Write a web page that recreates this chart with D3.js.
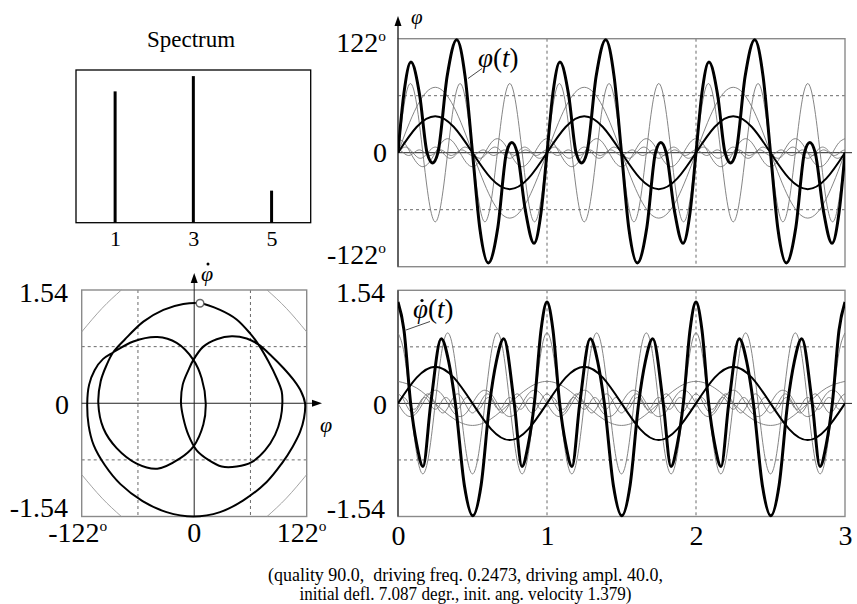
<!DOCTYPE html>
<html>
<head>
<meta charset="utf-8">
<script src="https://cdn.jsdelivr.net/npm/d3@7"></script>
<style>
  body { margin: 0; background: #fff; }
  svg { display: block; }
  text { font-family: "Liberation Serif", "Times New Roman", serif; fill: #000; }
</style>
</head>
<body>
<svg id="chart" width="857" height="604"></svg>
<script>
// spectrum (relative amplitudes of harmonics)
const spectrumOrders = [1, 3, 5];
const spectrumHeights = [0.86, 0.96, 0.21];

const timeTicks = [0, 1, 2, 3];
const phiMax = 122;
const velMax = 1.54;

// one period (t from 0 to 1) of the thick curves, [t, value]
const phiThick = [
  [0, 0], [0.04, 64], [0.087, 97], [0.145, 62], [0.195, 0], [0.232, -11], [0.268, 0],
  [0.33, 82], [0.394, 121], [0.45, 82], [0.5, 0], [0.55, -82], [0.606, -118], [0.67, -80],
  [0.728, 0], [0.764, 11], [0.8, 0], [0.855, -62], [0.913, -97], [0.96, -64], [1, 0]
];
const velThick = [
  [0, 1.38], [0.04, 1.0], [0.085, 0], [0.125, -0.55], [0.168, -0.86], [0.22, 0], [0.29, 0.88],
  [0.34, 0.57], [0.385, 0], [0.445, -1.11], [0.502, -1.53], [0.558, -1.11], [0.615, 0],
  [0.66, 0.57], [0.71, 0.88], [0.78, 0], [0.832, -0.86], [0.875, -0.55], [0.915, 0],
  [0.96, 1.0], [1, 1.38]
];

// driving torque, one cycle in 8 steps
const drivePhi = [0, 27.5, 39, 27.5, 0, -27.5, -39, -27.5];
const driveVel = [0, 0.35, 0.5, 0.35, 0, -0.35, -0.5, -0.35];

// thin harmonic components, one cycle each in 8 steps
const phiHarmonics = [
  { period: 1, values: [0, 49, 70, 49, 0, -49, -70, -49] },
  { period: 1 / 3, values: [0, 52, 74, 52, 0, -52, -74, -52] },
  { period: 1 / 3, values: [15, 10.6, 0, -10.6, -15, -10.6, 0, 10.6] },
  { period: 1 / 5, values: [0, 4.2, 6, 4.2, 0, -4.2, -6, -4.2] },
  { period: 1 / 7, values: [3, 2.1, 0, -2.1, -3, -2.1, 0, 2.1] }
];
const velHarmonics = [
  { period: 1, values: [0.3, 0.21, 0, -0.21, -0.3, -0.21, 0, 0.21] },
  { period: 1 / 3, values: [0.96, 0.68, 0, -0.68, -0.96, -0.68, 0, 0.68] },
  { period: 1 / 3, values: [0, -0.13, -0.18, -0.13, 0, 0.13, 0.18, 0.13] },
  { period: 1 / 5, values: [0.13, 0.09, 0, -0.09, -0.13, -0.09, 0, 0.09] },
  { period: 1 / 7, values: [0, 0.06, 0.08, 0.06, 0, -0.06, -0.08, -0.06] }
];

// phase trajectory [phi (deg), phi dot]
const portraitLoop = [
  [6.3, 1.36], [28, 1.27], [46, 1.14], [60.6, 0.95], [69.6, 0.8],
  [80.4, 0.57], [89.5, 0.34], [94.9, 0.16], [95.6, 0], [93.8, -0.2], [87.7, -0.43],
  [76.8, -0.64], [62.3, -0.8], [46.1, -0.86], [29.8, -0.86], [15.4, -0.77], [2.7, -0.64],
  [-6.3, -0.43], [-11.8, -0.2], [-14.3, 0],
  [-12.5, 0.25], [-6.3, 0.45], [-0.9, 0.59], [9.9, 0.77], [24.4, 0.87], [40.7, 0.91],
  [56.9, 0.88], [69.6, 0.8],
  [84.1, 0.64], [96.7, 0.48], [107.6, 0.32], [115.9, 0.16], [120.2, 0], [119.1, -0.2],
  [114.8, -0.39], [106.8, -0.59], [94.9, -0.82], [78.6, -1.07], [53.3, -1.32], [28, -1.48],
  [-0.9, -1.54],
  [-30, -1.48], [-56, -1.33], [-80, -1.1], [-97, -0.84], [-109, -0.57], [-114.5, -0.3],
  [-116, 0], [-114, 0.25], [-108, 0.45], [-99, 0.6], [-88, 0.69],
  [-66, 0.84], [-40, 0.9], [-19, 0.82], [-0.9, 0.59], [8.1, 0.34], [12.5, 0],
  [9.9, -0.29], [-0.9, -0.59], [-15.4, -0.75], [-40, -0.89], [-62.4, -0.82],
  [-84.1, -0.61], [-98.5, -0.34], [-104, 0], [-101.4, 0.3], [-95, 0.52], [-88, 0.69],
  [-75, 0.87], [-55.1, 1.11], [-33.4, 1.27], [-11.8, 1.35]
];
const startPoint = [6.3, 1.36];
const separatrix = [
  [[-122, 0.97], [-100, 1.29], [-79, 1.54]],
  [[79, 1.54], [100, 1.29], [122, 0.97]],
  [[-122, -0.97], [-100, -1.29], [-79, -1.54]],
  [[79, -1.54], [100, -1.29], [122, -0.97]]
];

const captionLines = [
  "(quality 90.0,  driving freq. 0.2473, driving ampl. 40.0,",
  "initial defl. 7.087 degr., init. ang. velocity 1.379)"
];
const captionWidths = [395, 332];

// repeat one period of [t, v] pairs
function tilePairs(pairs, cycles) {
  const out = [];
  for (let k = 0; k < cycles; k++) {
    pairs.forEach(([t, v], i) => {
      if (k > 0 && i === 0) return;
      out.push([t + k, v]);
    });
  }
  return out;
}

// repeat a cycle of evenly spaced samples over the span
function tileCycle(values, period, span) {
  const n = values.length;
  const count = Math.round(span / period) * n;
  const out = [];
  for (let i = 0; i <= count; i++) out.push([(i * period) / n, values[i % n]]);
  return out;
}

const svg = d3.select("#chart");
const GRID = "#444";
const FRAME = "#8a8a8a";
const THIN = "#777";

const defs = svg.append("defs");

function addLabel(g, x, y, str, size, anchor, deg) {
  const t = g.append("text")
    .attr("x", x).attr("y", y)
    .attr("font-size", size)
    .attr("text-anchor", anchor)
    .text(str);
  if (deg) t.append("tspan").attr("font-size", size * 0.55).attr("dy", -size * 0.38).text("o");
  return t;
}

function arrowUp(g, x, y) {
  g.append("path").attr("d", `M${x},${y} l-3.5,10 l7,0 z`).attr("fill", "#000");
}
function arrowRight(g, x, y) {
  g.append("path").attr("d", `M${x},${y} l-10,-3.5 l0,7 z`).attr("fill", "#000");
}

function styleTicks(a, size) {
  a.select(".domain").remove();
  a.selectAll("text").attr("font-size", size)
    .attr("font-family", "Liberation Serif, serif").attr("fill", "#000");
}

// ---------- spectrum ----------
const xS = d3.scaleLinear().domain([0, 6]).range([76, 310.7]);
const yS = d3.scaleLinear().domain([0, 1]).range([222.7, 70]);
const spec = svg.append("g");
spec.append("text").attr("x", 191).attr("y", 47).attr("font-size", 23)
  .attr("text-anchor", "middle").text("Spectrum");
spec.append("rect")
  .attr("x", xS(0)).attr("y", yS(1))
  .attr("width", xS(6) - xS(0)).attr("height", yS(0) - yS(1))
  .attr("fill", "none").attr("stroke", "#000").attr("stroke-width", 1.3);
spec.selectAll(".bar").data(spectrumOrders).enter().append("line")
  .attr("x1", d => xS(d)).attr("x2", d => xS(d))
  .attr("y1", yS(0)).attr("y2", (d, i) => yS(spectrumHeights[i]))
  .attr("stroke", "#000").attr("stroke-width", 3);
spec.append("g")
  .attr("transform", `translate(0,${yS(0)})`)
  .call(d3.axisBottom(xS).tickValues(spectrumOrders).tickSize(0).tickPadding(8).tickFormat(d3.format("d")))
  .call(a => styleTicks(a, 22));

// ---------- time panels ----------
const xT = d3.scaleLinear().domain([0, 3]).range([398, 845]);

function timePanel(id, y, vMax, thick, drive, harmonics, thickWidth) {
  const g = svg.append("g");
  const [x0, x1] = xT.range();
  const [yb, yt] = y.range();
  defs.append("clipPath").attr("id", id).append("rect")
    .attr("x", x0).attr("y", yt - 2).attr("width", x1 - x0).attr("height", yb - yt + 4);

  // grid
  [1, 2].forEach(t => g.append("line")
    .attr("x1", xT(t)).attr("x2", xT(t)).attr("y1", yt).attr("y2", yb)
    .attr("stroke", GRID).attr("stroke-width", 0.8).attr("stroke-dasharray", "3,3"));
  [vMax / 2, -vMax / 2].forEach(v => g.append("line")
    .attr("x1", x0).attr("x2", x1).attr("y1", y(v)).attr("y2", y(v))
    .attr("stroke", GRID).attr("stroke-width", 0.8).attr("stroke-dasharray", "3,3"));

  g.append("rect").attr("x", x0).attr("y", yt).attr("width", x1 - x0).attr("height", yb - yt)
    .attr("fill", "none").attr("stroke", FRAME).attr("stroke-width", 1.4);
  g.append("line").attr("x1", x0).attr("x2", 852).attr("y1", y(0)).attr("y2", y(0))
    .attr("stroke", "#222").attr("stroke-width", 1);
  g.append("line").attr("x1", x0).attr("x2", x0).attr("y1", yt).attr("y2", yb)
    .attr("stroke", "#333").attr("stroke-width", 1.2);

  const curves = g.append("g").attr("clip-path", `url(#${id})`);
  const smooth = d3.line().x(d => xT(d[0])).y(d => y(d[1])).curve(d3.curveNatural);
  const mono = d3.line().x(d => xT(d[0])).y(d => y(d[1])).curve(d3.curveMonotoneX);

  harmonics.forEach(h => curves.append("path")
    .attr("d", smooth(tileCycle(h.values, h.period, 3)))
    .attr("fill", "none").attr("stroke", THIN).attr("stroke-width", 0.9));
  curves.append("path").attr("d", smooth(tileCycle(drive, 1, 3)))
    .attr("fill", "none").attr("stroke", "#000").attr("stroke-width", 2);
  curves.append("path").attr("d", mono(tilePairs(thick, 3)))
    .attr("fill", "none").attr("stroke", "#000").attr("stroke-width", thickWidth);
  return g;
}

const yPhi = d3.scaleLinear().domain([-phiMax, phiMax]).range([266.7, 38.7]);
const topPanel = timePanel("clipTop", yPhi, phiMax, phiThick, drivePhi, phiHarmonics, 3);
addLabel(topPanel, 386, 51.7, "122", 28, "end", true);
addLabel(topPanel, 387, 162, "0", 28, "end", false);
addLabel(topPanel, 386, 263.5, "-122", 28, "end", true);
topPanel.append("line").attr("x1", 398).attr("x2", 398).attr("y1", 38.7).attr("y2", 22)
  .attr("stroke", "#000").attr("stroke-width", 1.2);
arrowUp(topPanel, 398, 16);
topPanel.append("text").attr("x", 411).attr("y", 24).attr("font-size", 21)
  .attr("font-style", "italic").text("φ");
topPanel.append("line").attr("x1", 468).attr("y1", 78.5).attr("x2", 482).attr("y2", 68.5)
  .attr("stroke", "#333").attr("stroke-width", 0.9);
const lblTop = topPanel.append("text").attr("x", 478).attr("y", 67).attr("font-size", 27);
lblTop.append("tspan").attr("font-style", "italic").text("φ");
lblTop.append("tspan").text("(");
lblTop.append("tspan").attr("font-style", "italic").text("t");
lblTop.append("tspan").text(")");

const yVel = d3.scaleLinear().domain([-velMax, velMax]).range([516.5, 290.3]);
const botPanel = timePanel("clipBot", yVel, velMax, velThick, driveVel, velHarmonics, 3);
addLabel(botPanel, 385, 301.7, "1.54", 28, "end", false);
addLabel(botPanel, 387, 413.5, "0", 28, "end", false);
addLabel(botPanel, 385, 518, "-1.54", 28, "end", false);
botPanel.append("g")
  .attr("transform", `translate(0,${yVel(-velMax)})`)
  .call(d3.axisBottom(xT).tickValues(timeTicks).tickSize(0).tickPadding(9).tickFormat(d3.format("d")))
  .call(a => styleTicks(a, 28));
botPanel.append("line").attr("x1", 406).attr("y1", 330).attr("x2", 430).attr("y2", 321.5)
  .attr("stroke", "#333").attr("stroke-width", 0.9);
const lblBot = botPanel.append("text").attr("x", 413).attr("y", 318).attr("font-size", 27);
lblBot.append("tspan").attr("font-style", "italic").text("φ");
lblBot.append("tspan").text("(");
lblBot.append("tspan").attr("font-style", "italic").text("t");
lblBot.append("tspan").text(")");
botPanel.append("circle").attr("cx", 422).attr("cy", 300.5).attr("r", 1.6).attr("fill", "#000");

// ---------- phase portrait ----------
const xP = d3.scaleLinear().domain([-phiMax, phiMax]).range([81.7, 306.7]);
const yP = d3.scaleLinear().domain([-velMax, velMax]).range([516.5, 290]);
const ph = svg.append("g");
[-phiMax / 2, phiMax / 2].forEach(v => ph.append("line")
  .attr("x1", xP(v)).attr("x2", xP(v)).attr("y1", yP(velMax)).attr("y2", yP(-velMax))
  .attr("stroke", GRID).attr("stroke-width", 0.8).attr("stroke-dasharray", "3,3"));
[-velMax / 2, velMax / 2].forEach(v => ph.append("line")
  .attr("x1", xP(-phiMax)).attr("x2", xP(phiMax)).attr("y1", yP(v)).attr("y2", yP(v))
  .attr("stroke", GRID).attr("stroke-width", 0.8).attr("stroke-dasharray", "3,3"));
ph.append("rect").attr("x", xP(-phiMax)).attr("y", yP(velMax))
  .attr("width", xP(phiMax) - xP(-phiMax)).attr("height", yP(-velMax) - yP(velMax))
  .attr("fill", "none").attr("stroke", FRAME).attr("stroke-width", 1.4);
const sepLine = d3.line().x(d => xP(d[0])).y(d => yP(d[1])).curve(d3.curveNatural);
separatrix.forEach(s => ph.append("path").attr("d", sepLine(s))
  .attr("fill", "none").attr("stroke", "#999").attr("stroke-width", 0.9));
ph.append("line").attr("x1", xP(-phiMax)).attr("x2", 314).attr("y1", yP(0)).attr("y2", yP(0))
  .attr("stroke", "#222").attr("stroke-width", 1);
arrowRight(ph, 322, yP(0));
ph.append("line").attr("x1", xP(0)).attr("x2", xP(0)).attr("y1", yP(-velMax)).attr("y2", 281)
  .attr("stroke", "#222").attr("stroke-width", 1);
arrowUp(ph, xP(0), 273);
ph.append("path")
  .attr("d", d3.line().x(d => xP(d[0])).y(d => yP(d[1])).curve(d3.curveCatmullRomClosed)(portraitLoop))
  .attr("fill", "none").attr("stroke", "#000").attr("stroke-width", 2);
ph.append("circle").attr("cx", xP(startPoint[0])).attr("cy", yP(startPoint[1])).attr("r", 3.8)
  .attr("fill", "#fff").attr("stroke", "#666").attr("stroke-width", 1.5);
addLabel(ph, 68, 301.7, "1.54", 28, "end", false);
addLabel(ph, 69, 414, "0", 28, "end", false);
addLabel(ph, 68, 517, "-1.54", 28, "end", false);
addLabel(ph, xP(-phiMax) - 4, 541.7, "-122", 28, "middle", true);
addLabel(ph, xP(0), 541.7, "0", 28, "middle", false);
addLabel(ph, xP(phiMax) - 5, 541.7, "122", 28, "middle", true);
ph.append("text").attr("x", 320).attr("y", 432).attr("font-size", 22)
  .attr("font-style", "italic").text("φ");
ph.append("text").attr("x", 201).attr("y", 281).attr("font-size", 22)
  .attr("font-style", "italic").text("φ");
ph.append("circle").attr("cx", 208).attr("cy", 264).attr("r", 1.5).attr("fill", "#000");

// ---------- caption ----------
svg.append("g").selectAll("text").data(captionLines).enter().append("text")
  .attr("x", 465.5).attr("y", (d, i) => 581 + i * 19)
  .attr("font-size", 18).attr("text-anchor", "middle")
  .attr("textLength", (d, i) => captionWidths[i])
  .attr("lengthAdjust", "spacingAndGlyphs")
  .style("white-space", "pre")
  .text(d => d);
</script>
</body>
</html>
